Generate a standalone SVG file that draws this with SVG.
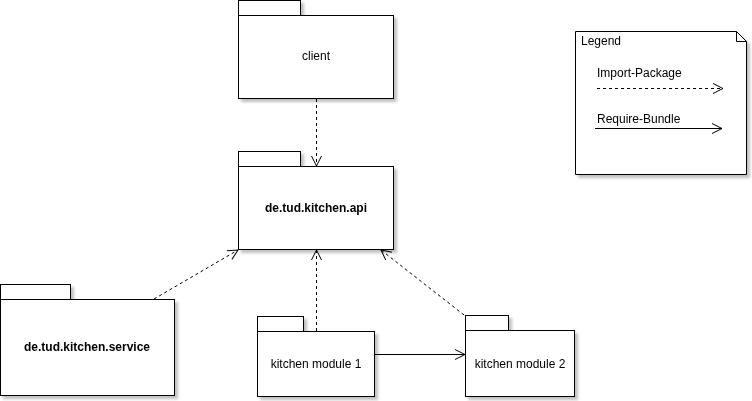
<svg xmlns="http://www.w3.org/2000/svg" width="752" height="401" viewBox="0 0 752 401">
<defs>
<filter id="sh" x="-10%" y="-10%" width="130%" height="130%">
<feGaussianBlur in="SourceAlpha" stdDeviation="1.5"/>
<feOffset dx="3" dy="3" result="b"/>
<feComponentTransfer><feFuncA type="linear" slope="0.25"/></feComponentTransfer>
<feMerge><feMergeNode/><feMergeNode in="SourceGraphic"/></feMerge>
</filter>
<marker id="open" viewBox="0 0 12 12" refX="11" refY="6" markerWidth="12" markerHeight="12" markerUnits="userSpaceOnUse" orient="auto">
<path d="M1,1 L11,6 L1,11" fill="none" stroke="#000" stroke-width="1"/>
</marker>
</defs>
<style>
.box{fill:#fff;stroke:#000;stroke-width:1}
.t{font-family:"Liberation Sans",Arial,sans-serif;font-size:12px;fill:#000}
.c{text-anchor:middle}
.b{font-weight:bold}
.dash{fill:none;stroke:#000;stroke-width:1;stroke-dasharray:3,3}
.solid{fill:none;stroke:#000;stroke-width:1}
</style>
<rect width="752" height="401" fill="#fff"/>
<g id="client" filter="url(#sh)">
<rect class="box" x="238.5" y="0.5" width="62" height="15"/>
<rect class="box" x="238.5" y="15.5" width="155" height="83"/>
<text class="t c" x="316" y="60">client</text>
</g>
<g id="api" filter="url(#sh)">
<rect class="box" x="238.5" y="151.5" width="62" height="15"/>
<rect class="box" x="238.5" y="166.5" width="155" height="83"/>
<text class="t c b" x="316" y="212">de.tud.kitchen.api</text>
</g>
<g id="service" filter="url(#sh)">
<rect class="box" x="0.5" y="284.5" width="70" height="15"/>
<rect class="box" x="0.5" y="299.5" width="174" height="96"/>
<text class="t c b" x="87" y="351">de.tud.kitchen.service</text>
</g>
<g id="km1" filter="url(#sh)">
<rect class="box" x="257.5" y="316.5" width="46" height="15"/>
<rect class="box" x="257.5" y="331.5" width="117" height="65"/>
<text class="t c" x="316" y="368">kitchen module 1</text>
</g>
<g id="km2" filter="url(#sh)">
<rect class="box" x="465.5" y="315.5" width="43" height="15"/>
<rect class="box" x="465.5" y="330.5" width="109" height="66"/>
<text class="t c" x="520" y="368">kitchen module 2</text>
</g>
<g id="legend" filter="url(#sh)">
<path class="box" d="M575.5,31.5 H736.5 L746.5,41.5 V174.5 H575.5 Z"/>
<path class="solid" d="M736.5,31.5 V41.5 H746.5"/>
<text class="t" x="581" y="45">Legend</text>
<text class="t" x="597" y="77">Import-Package</text>
<line class="dash" x1="597" y1="88.5" x2="723" y2="88.5" marker-end="url(#open)"/>
<text class="t" x="597" y="123">Require-Bundle</text>
<line class="solid" x1="595" y1="128.5" x2="722" y2="128.5" marker-end="url(#open)"/>
</g>
<g id="connectors">
<line class="dash" x1="316.5" y1="99" x2="316.5" y2="166" marker-end="url(#open)"/>
<line class="dash" x1="154" y1="299" x2="238" y2="250" marker-end="url(#open)"/>
<line class="dash" x1="316.5" y1="331" x2="316.5" y2="250" marker-end="url(#open)"/>
<line class="dash" x1="464" y1="315" x2="381" y2="250" marker-end="url(#open)"/>
<line class="solid" x1="375" y1="354.5" x2="465" y2="354.5" marker-end="url(#open)"/>
</g>
</svg>
